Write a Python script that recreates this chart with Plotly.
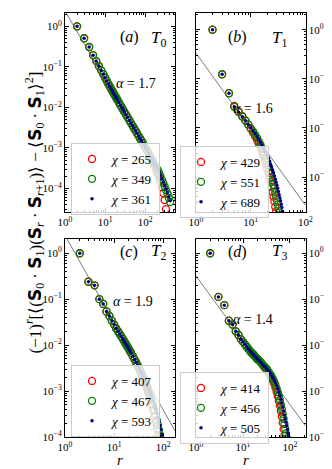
import math
import plotly.graph_objects as go

# ---- panel (a): T0 ----
r_a = [2, 3, 4, 5, 6, 7, 8, 9, 10, 11, 12, 13, 14, 15, 16, 17, 18, 19, 20, 22, 24, 26, 28, 30,
       33, 36, 40, 44, 48, 52, 57, 62, 68, 74, 80, 87, 95, 103, 112, 122, 133, 145, 158, 172,
       187, 203, 220, 238, 258, 280, 303, 328, 355, 385, 415]
a_265 = [1.0, 0.51, 0.31, 0.195, 0.139, 0.105, 0.082, 0.066, 0.054, 0.045, 0.038, 0.033, 0.029,
         0.0258, 0.023, 0.0207, 0.0188, 0.017, 0.0156, 0.0132, 0.0114, 0.0099, 0.00875, 0.0078,
         0.00664, 0.00575, 0.00482, 0.00411, 0.00356, 0.0031, 0.00267, 0.00232, 0.00198, 0.00172,
         0.00151, 0.00131, 0.00111, 0.00097, 0.00083, 0.000705, 0.000595, 0.0005, 0.00042, 0.00035,
         0.00029, 0.000238, 0.000192, 0.00015, 0.000108, 0.000077, 0.000052, 0.000031, 0.000017,
         0.000009, 0.000005]
a_349 = [1.0, 0.51, 0.31, 0.195, 0.139, 0.105, 0.082, 0.066, 0.054, 0.045, 0.038, 0.033, 0.029,
         0.0258, 0.023, 0.0207, 0.0188, 0.017, 0.0156, 0.0132, 0.0114, 0.0099, 0.00875, 0.0078,
         0.00664, 0.00575, 0.00482, 0.00411, 0.00356, 0.0031, 0.00267, 0.00232, 0.00198, 0.00172,
         0.00151, 0.00131, 0.00113, 0.000993, 0.000853, 0.00073, 0.000622, 0.00053, 0.000452,
         0.000387, 0.000332, 0.000288, 0.000244, 0.000203, 0.000168, 0.000138, 0.000113,
         0.0000915, 0.0000745, 0.0000585, 0.0000465]
a_361 = [1.0, 0.51, 0.31, 0.195, 0.139, 0.105, 0.082, 0.066, 0.054, 0.045, 0.038, 0.033, 0.029,
         0.0258, 0.023, 0.0207, 0.0188, 0.017, 0.0156, 0.0132, 0.0114, 0.0099, 0.00875, 0.0078,
         0.00664, 0.00575, 0.00482, 0.00411, 0.00356, 0.0031, 0.00267, 0.00232, 0.00198, 0.00172,
         0.00151, 0.00131, 0.00113, 0.000995, 0.000857, 0.000735, 0.000628, 0.000538, 0.00046,
         0.000395, 0.00034, 0.000294, 0.000251, 0.00021, 0.000175, 0.000145, 0.00012, 0.0000977,
         0.00008, 0.0000628, 0.00005]

# ---- panel (b): T1 ----
r_b = list(range(2, 41))
b_429 = [1.0, 0.124, 0.051, 0.028, 0.022, 0.0175, 0.0143, 0.0118, 0.0096, 0.0081, 0.0068, 0.0057,
         0.0048, 0.004, 0.0033, 0.0027, 0.0022, 0.0018, 0.0015, 0.00122, 0.00098, 0.00079, 0.00063,
         0.0005, 0.0004, 0.00032, 0.00025, 0.0002, 0.00016, 0.00012, 0.0001, 0.00008, 0.000063,
         0.00005, 0.00004, 0.000031, 0.000025, 0.00002, 0.000016]
b_551 = [1.0, 0.124, 0.051, 0.027, 0.021, 0.017, 0.014, 0.0118, 0.0099, 0.0085, 0.0073, 0.0063,
         0.0053, 0.0046, 0.0039, 0.0033, 0.0028, 0.0024, 0.002, 0.0017, 0.0014, 0.0012, 0.001,
         0.00084, 0.0007, 0.00059, 0.00049, 0.00041, 0.00034, 0.00028, 0.00023, 0.00019, 0.00016,
         0.00013, 0.00011, 0.00009, 0.000075, 0.000062, 0.00005]
b_689 = [1.0, 0.124, 0.051, 0.027, 0.021, 0.017, 0.014, 0.0118, 0.0102, 0.0088, 0.0077, 0.0067,
         0.0058, 0.0051, 0.0045, 0.0039, 0.0034, 0.003, 0.0027, 0.0024, 0.0021, 0.0018, 0.0016,
         0.0014, 0.00122, 0.00105, 0.00091, 0.00079, 0.00068, 0.00059, 0.00051, 0.00044, 0.00038,
         0.00033, 0.00028, 0.00024, 0.0002, 0.00017, 0.000145]

# ---- panel (c): T2 ----
r_c = [2, 3, 4, 5, 6, 7, 8, 9, 10, 11, 12, 13, 14, 15, 16, 17, 18, 19, 20, 21, 22, 24, 26, 28,
       30, 32, 34, 36, 38, 40, 43, 46, 49, 52, 55, 58, 62, 66, 70, 74, 78, 82, 86, 90, 95, 100,
       105, 110]
c_head = [1.0, 0.24, 0.2, 0.1, 0.079, 0.054, 0.043, 0.034, 0.028, 0.023, 0.02, 0.0175, 0.0155,
          0.0137, 0.0122, 0.011, 0.0099, 0.009, 0.0082, 0.00746, 0.00681, 0.00573, 0.00489]
c_407 = c_head + [0.00419, 0.00359, 0.00309, 0.00269, 0.00235, 0.00204, 0.0018, 0.00146, 0.00117,
                  0.000968, 0.000783, 0.00063, 0.000511, 0.000381, 0.000281, 0.000208, 0.000152,
                  0.000111, 0.0000796, 0.0000584, 0.0000435, 0.0000294, 0.0000198, 0.0000134,
                  0.0000088]
c_467 = c_head + [0.00423, 0.0037, 0.00319, 0.00279, 0.00246, 0.00217, 0.00195, 0.00161, 0.00133,
                  0.00112, 0.000932, 0.000774, 0.000646, 0.000506, 0.000386, 0.0003, 0.000233,
                  0.000181, 0.00014, 0.000109, 0.0000856, 0.0000622, 0.0000468, 0.0000339,
                  0.0000248]
c_593 = c_head + [0.00423, 0.0037, 0.00322, 0.00283, 0.00251, 0.00222, 0.002, 0.00168, 0.00141,
                  0.00121, 0.00103, 0.000875, 0.000751, 0.00061, 0.000488, 0.0004, 0.000324,
                  0.000264, 0.000215, 0.000177, 0.000145, 0.000113, 0.00009, 0.0000706, 0.000055]

# ---- panel (d): T3 ----
r_d = [2, 3, 4, 5, 6, 7, 8, 9, 10, 11, 12, 13, 14, 15, 16, 17, 18, 19, 20, 21, 22, 24, 26, 28,
       30, 32, 34, 36, 38, 40, 43, 46, 49, 52, 55, 58, 61, 64, 67, 70, 73, 76, 79, 82, 85, 88,
       91, 95, 100, 105]
d_head = [1.0, 0.112, 0.074, 0.034, 0.028, 0.02, 0.0166, 0.0135, 0.0118, 0.0104, 0.0092, 0.0083,
          0.0075, 0.0069, 0.0065, 0.0061, 0.0057, 0.0053, 0.005, 0.0048, 0.0046, 0.0042]
d_414 = d_head + [0.00372, 0.00338, 0.00314, 0.0029, 0.00258, 0.00237, 0.00215, 0.00198, 0.0017,
                  0.00144, 0.00119, 0.00096, 0.000773, 0.000608, 0.000476, 0.000363, 0.000275,
                  0.000203, 0.000148, 0.000105, 0.0000775, 0.0000546, 0.0000385, 0.0000276,
                  0.0000192, 0.000013, 0.0000076, 0.0000046]
d_456 = d_head + [0.0038, 0.0035, 0.00323, 0.00302, 0.00272, 0.00251, 0.0023, 0.00214, 0.00187,
                  0.00161, 0.00136, 0.00113, 0.000946, 0.000779, 0.000636, 0.000508, 0.000407,
                  0.00032, 0.00025, 0.000192, 0.000151, 0.00012, 0.0000936, 0.0000725, 0.0000564,
                  0.000043, 0.0000296, 0.00002]
d_505 = d_head + [0.0038, 0.0035, 0.0033, 0.00305, 0.0028, 0.0026, 0.0024, 0.00225, 0.002,
                  0.00175, 0.00152, 0.0013, 0.00112, 0.00095, 0.0008, 0.00066, 0.00055, 0.00045,
                  0.00037, 0.0003, 0.00025, 0.00021, 0.000175, 0.000145, 0.00012, 0.0001,
                  0.000076, 0.000057]

# guide lines A * r^-alpha
fit_amp = [2.4, 0.334, 2.45, 0.32]
fit_alpha = [1.7, 1.55, 1.9, 1.4]
fit_span = [[1, 550], [1, 100], [1, 175], [1, 215]]
alpha_labels = ["1.7", "1.6", "1.9", "1.4"]
panel_tags = ["a", "b", "c", "d"]
temps = ["0", "1", "2", "3"]

panels = [
    (r_a, [(a_265, "265"), (a_349, "349"), (a_361, "361")]),
    (r_b, [(b_429, "429"), (b_551, "551"), (b_689, "689")]),
    (r_c, [(c_407, "407"), (c_467, "467"), (c_593, "593")]),
    (r_d, [(d_414, "414"), (d_456, "456"), (d_505, "505")]),
]

W, H = 332, 469
SERIF = "Liberation Serif"
# frames in pixels: left, right, top, bottom
frames = [(57, 167, 5, 204), (188, 297.5, 5, 204), (57, 167, 231, 429), (188, 297.5, 231, 429)]
xranges = [[0, 2.74], [0, 2], [0, 2.24], [0, 2.33]]
yranges = [[-4.58, 0.33], [-3.71, 0.34], [-4, 0.31], [-4, 0.31]]
ytick_sets = [[1, 0.1, 0.01, 1e-3, 1e-4], [1, 0.1, 0.01, 1e-3],
              [1, 0.1, 0.01, 1e-3, 1e-4], [1, 0.1, 0.01, 1e-3, 1e-4]]
legend_pos = [(63, 135), (172, 138), (63, 357), (172, 364)]


def sup_label(v):
    e = int(round(math.log10(v)))
    return "10<sup>%s</sup>" % (str(e).replace("-", "−"))


minor_vals = [m * 10 ** k for k in range(-5, 3) for m in range(2, 10)]

fig = go.Figure()
colors = [("red", "circle-open", 7), ("green", "circle-open", 7), ("navy", "circle", 3.5)]

for i, (rv, series) in enumerate(panels):
    n = "" if i == 0 else str(i + 1)
    xa, ya = "x" + n, "y" + n
    lg = "legend" + n
    lo, hi = fit_span[i]
    fig.add_trace(go.Scatter(x=[lo, hi], y=[fit_amp[i] * lo ** -fit_alpha[i], fit_amp[i] * hi ** -fit_alpha[i]],
                             mode="lines", line=dict(color="rgba(0,0,0,0.75)", width=0.7),
                             showlegend=False, xaxis=xa, yaxis=ya, hoverinfo="skip"))
    for (vals, chi), (col, sym, sz) in zip(series, colors):
        mk = dict(symbol=sym, size=sz, color=col)
        if sym == "circle-open":
            mk["line"] = dict(width=1.3, color=col)
        fig.add_trace(go.Scatter(x=rv, y=vals, mode="markers", marker=mk,
                                 name="<i>χ</i> = " + chi, xaxis=xa, yaxis=ya, legend=lg))

    L, R, T, B = frames[i]
    ax = dict(type="log", domain=[L / W, R / W], range=xranges[i], showline=True, linecolor="black",
              linewidth=1, mirror="ticks", ticks="inside", ticklen=4, tickwidth=0.8, tickcolor="black",
              tickmode="array", tickvals=[1, 10, 100], ticktext=[sup_label(v) for v in [1, 10, 100]],
              tickfont=dict(family=SERIF, size=11, color="black"), showgrid=False, zeroline=False,
              anchor=ya, automargin=False,
              minor=dict(ticks="inside", ticklen=2, tickwidth=0.6, tickcolor="black",
                         tickmode="array", tickvals=minor_vals, showgrid=False))
    ay = dict(type="log", domain=[1 - B / H, 1 - T / H], range=yranges[i], showline=True, linecolor="black",
              linewidth=1, mirror="ticks", ticks="inside", ticklen=4, tickwidth=0.8, tickcolor="black",
              tickmode="array", tickvals=ytick_sets[i], ticktext=[sup_label(v) for v in ytick_sets[i]],
              tickfont=dict(family=SERIF, size=11, color="black"), showgrid=False, zeroline=False,
              anchor=xa, side="right" if i % 2 else "left", automargin=False,
              minor=dict(ticks="inside", ticklen=2, tickwidth=0.6, tickcolor="black",
                         tickmode="array", tickvals=minor_vals, showgrid=False))
    fig.update_layout({"xaxis" + n: ax, "yaxis" + n: ay})

    lx, ly = legend_pos[i]
    fig.update_layout({lg: dict(x=lx / W, y=1 - ly / H, xanchor="left", yanchor="top",
                                bgcolor="rgba(255,255,255,0.8)", bordercolor="#cccccc", borderwidth=1,
                                font=dict(family=SERIF, size=13, color="black"),
                                itemwidth=30, tracegroupgap=0)})

    # panel tag and temperature
    fig.add_annotation(x=(L + 53) / W, y=1 - (T + 13) / H, xref="paper", yref="paper",
                       text="(<i>%s</i>)" % panel_tags[i], showarrow=False,
                       font=dict(family=SERIF, size=16, color="black"))
    fig.add_annotation(x=(L + 93) / W, y=1 - (T + 13) / H, xref="paper", yref="paper",
                       text="<i>T</i><sub>%s</sub>" % temps[i], showarrow=False,
                       font=dict(family=SERIF, size=17, color="black"))

alpha_pos = [(128, 66), (267, 91), (125, 293), (267, 311)]
for (px, py), lab in zip(alpha_pos, alpha_labels):
    fig.add_annotation(x=px / W, y=1 - py / H, xref="paper", yref="paper",
                       text="<i>α</i> = " + lab, showarrow=False,
                       font=dict(family=SERIF, size=14, color="black"))

S = '<span style="font-family:DejaVu Sans"><b>S</b></span>'
ytitle = ("(−1)<sup><i>r</i></sup>[⟨(%s<sub>0</sub> · %s<sub>1</sub>)(%s<sub><i>r</i></sub> · "
          "%s<sub><i>r</i>+1</sub>)⟩ − ⟨%s<sub>0</sub> · %s<sub>1</sub>⟩<sup>2</sup>]") % (S, S, S, S, S, S)
fig.add_annotation(x=12 / W, y=1 - 205 / H, xref="paper", yref="paper", text=ytitle, textangle=-90,
                   showarrow=False, font=dict(family=SERIF, size=17, color="black"))
for cx in [112, 243]:
    fig.add_annotation(x=cx / W, y=1 - 462 / H, xref="paper", yref="paper", text="<i>r</i>",
                       showarrow=False, font=dict(family=SERIF, size=15, color="black"))

fig.update_layout(width=W, height=H, margin=dict(l=0, r=0, t=0, b=0),
                  plot_bgcolor="white", paper_bgcolor="white", showlegend=True)

fig.write_html("out.html")
